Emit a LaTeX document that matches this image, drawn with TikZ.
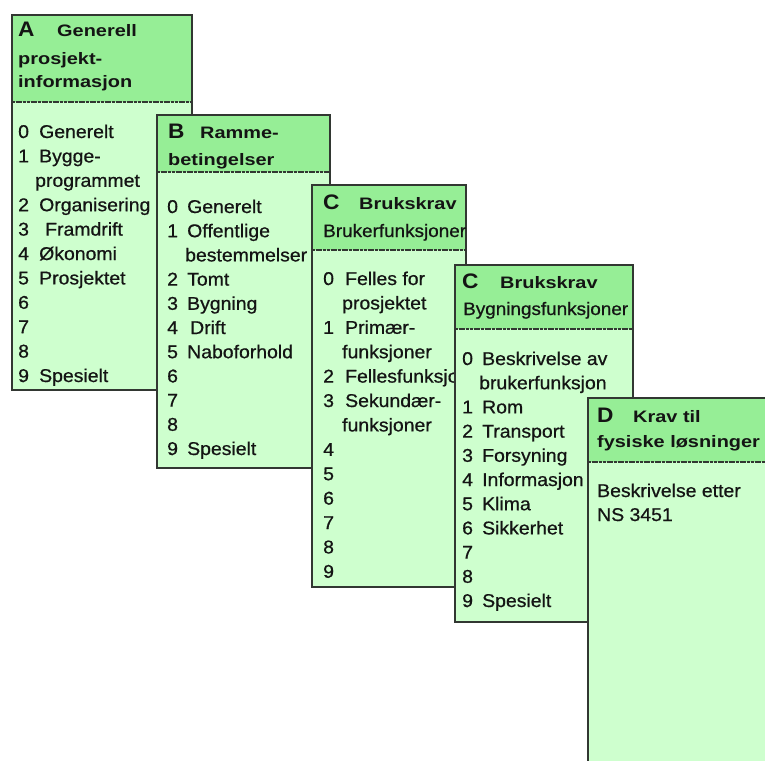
\documentclass[tikz,border=0pt]{standalone}
\usepackage{fontspec}
\setmainfont{Liberation Sans}
\newfontfamily\bodyf{Liberation Sans}[FakeStretch=1.05, FakeBold=0.7]
\newfontfamily\headf{Liberation Sans}[FakeStretch=1.2]
\newfontfamily\letf{Liberation Sans}[FakeStretch=1.08]
\definecolor{hdr}{RGB}{150,238,150}
\definecolor{bdy}{RGB}{206,255,206}
\definecolor{edge}{RGB}{50,55,50}
\definecolor{ink}{RGB}{20,20,20}
\tikzset{
  txt/.style={anchor=base west, inner sep=0pt, text=ink, font=\bodyf\fontsize{18.5}{22}\selectfont},
  subt/.style={anchor=base west, inner sep=0pt, text=ink, font=\bodyf\fontsize{18}{22}\selectfont},
  hd/.style={anchor=base west, inner sep=0pt, text=ink, font=\headf\bfseries\fontsize{16.6}{20}\selectfont},
  letter/.style={anchor=base west, inner sep=0pt, text=ink, font=\letf\bfseries\fontsize{21}{24}\selectfont},
  cardbody/.style={fill=bdy},
  cardhead/.style={fill=hdr},
  sep/.style={draw=edge, line width=2pt, dash pattern=on 3pt off 0.7pt},
  frame/.style={draw=edge, line width=1.6pt},
}
\begin{document}
\begin{tikzpicture}[x=1pt,y=-1pt]
\useasboundingbox (0,0) rectangle (765,760);
\clip (0,0) rectangle (765,760);
\fill[white] (0,0) rectangle (765,760);

% ---------- Card A ----------
\fill[cardbody] (12,15) rectangle (192,390);
\fill[cardhead] (12,15) rectangle (192,102);
\draw[sep] (12,102) -- (192,102);
\draw[frame] (12,15) rectangle (192,390);
\node[letter] (A-l) at (18,37) {A};
\node[hd] (A-h1) at (57,37) {Generell};
\node[hd] (A-h2) at (18,64) {prosjekt-};
\node[hd] (A-h3) at (18,88) {informasjon};
\foreach \d/\t/\o [count=\i from 0] in {0/Generelt/0, 1/Bygge-/0, {}/programmet/-4, 2/Organisering/0, 3/Framdrift/6, 4/Økonomi/0, 5/Prosjektet/0, 6/{}/0, 7/{}/0, 8/{}/0, 9/Spesielt/0}{
  \node[txt] (A-d\i) at (18,138+\i*24.4) {\d};
  \node[txt] (A-t\i) at (39+\o,138+\i*24.4) {\t};
}

% ---------- Card B ----------
\fill[cardbody] (157,115) rectangle (330,468);
\fill[cardhead] (157,115) rectangle (330,172);
\draw[sep] (157,172) -- (330,172);
\draw[frame] (157,115) rectangle (330,468);
\node[letter] (B-l) at (168,138) {B};
\node[hd] (B-h1) at (200,138) {Ramme-};
\node[hd] (B-h2) at (168,165) {betingelser};
\foreach \d/\t/\o [count=\i from 0] in {0/Generelt/0, 1/Offentlige/0, {}/bestemmelser/-2, 2/Tomt/0, 3/Bygning/0, 4/Drift/3, 5/Naboforhold/0, 6/{}/0, 7/{}/0, 8/{}/0, 9/Spesielt/0}{
  \node[txt] (B-d\i) at (167,213+\i*24.2) {\d};
  \node[txt] (B-t\i) at (187+\o,213+\i*24.2) {\t};
}

% ---------- Card C (Brukerfunksjoner) ----------
\fill[cardbody] (312,185) rectangle (466,587);
\fill[cardhead] (312,185) rectangle (466,250);
\draw[sep] (312,250) -- (466,250);
\draw[frame] (312,185) rectangle (466,587);
\node[letter] (C1-l) at (323,209) {C};
\node[hd] (C1-h1) at (359,209) {Brukskrav};
\node[subt] (C1-h2) at (323,237) {Brukerfunksjoner};
\foreach \d/\t/\o [count=\i from 0] in {0/Felles for/0, {}/prosjektet/-3, 1/Primær-/0, {}/funksjoner/-3, 2/Fellesfunksjoner/0, 3/Sekundær-/0, {}/funksjoner/-3, 4/{}/0, 5/{}/0, 6/{}/0, 7/{}/0, 8/{}/0, 9/{}/0}{
  \node[txt] (C1-d\i) at (323,285+\i*24.4) {\d};
  \node[txt] (C1-t\i) at (345+\o,285+\i*24.4) {\t};
}

% ---------- Card C (Bygningsfunksjoner) ----------
\fill[cardbody] (455,265) rectangle (633,622);
\fill[cardhead] (455,265) rectangle (633,329);
\draw[sep] (455,329) -- (633,329);
\draw[frame] (455,265) rectangle (633,622);
\node[letter] (C2-l) at (462,288) {C};
\node[hd] (C2-h1) at (500,288) {Brukskrav};
\node[subt] (C2-h2) at (463,315) {Bygningsfunksjoner};
\foreach \d/\t/\o [count=\i from 0] in {0/Beskrivelse av/0, {}/brukerfunksjon/-3, 1/Rom/0, 2/Transport/0, 3/Forsyning/0, 4/Informasjon/0, 5/Klima/0, 6/Sikkerhet/0, 7/{}/0, 8/{}/0, 9/Spesielt/0}{
  \node[txt] (C2-d\i) at (462,365+\i*24.2) {\d};
  \node[txt] (C2-t\i) at (482+\o,365+\i*24.2) {\t};
}

% ---------- Card D ----------
\fill[cardbody] (588,398) rectangle (790,790);
\fill[cardhead] (588,398) rectangle (790,462);
\draw[sep] (588,462) -- (790,462);
\draw[frame] (588,398) rectangle (790,790);
\node[letter] (D-l) at (597,422) {D};
\node[hd] (D-h1) at (633,422) {Krav til};
\node[hd] (D-h2) at (597,447) {fysiske løsninger};
\node[txt] (D-t0) at (597,497) {Beskrivelse etter};
\node[txt] (D-t1) at (597,521) {NS 3451};
\end{tikzpicture}
\end{document}
